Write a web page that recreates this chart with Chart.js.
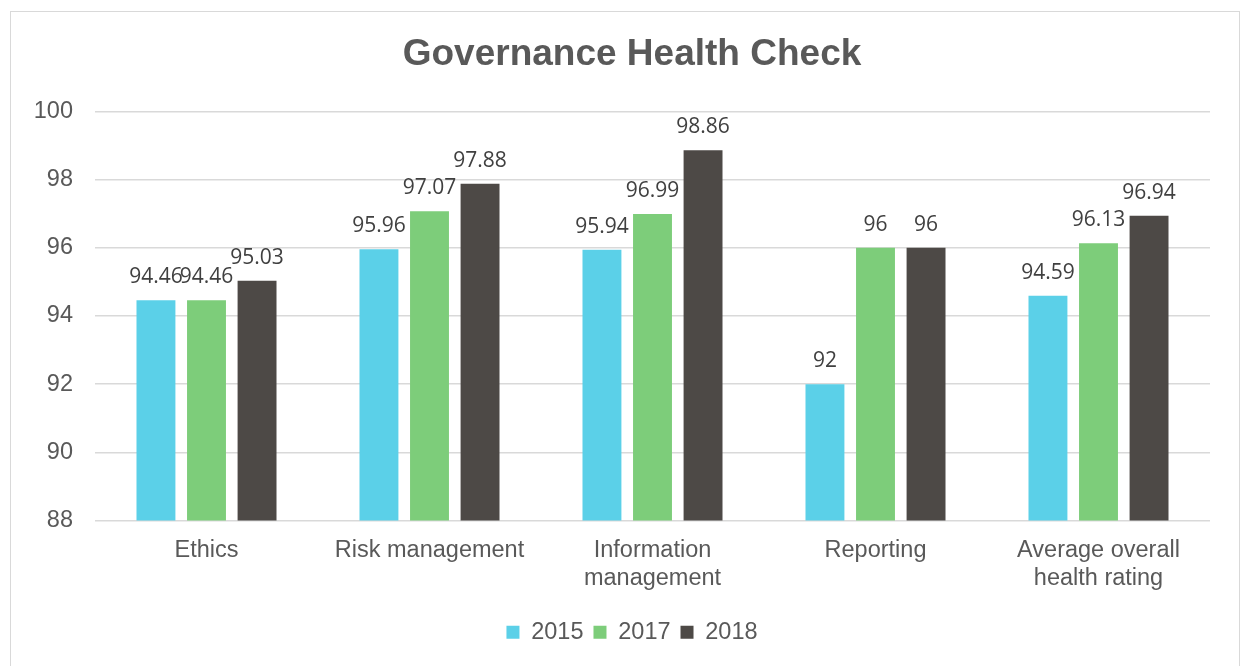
<!DOCTYPE html>
<html>
<head>
<meta charset="utf-8">
<script src="https://cdn.jsdelivr.net/npm/chart.js@4"></script>
<style>
  html, body { margin: 0; padding: 0; background: #fff; }
  #frame { position: absolute; left: 10px; top: 11px; width: 1230px; height: 680px; border: 1px solid #d9d9d9; box-sizing: border-box; }
  #wrap { position: absolute; left: 0; top: 0; width: 1245px; height: 666px; }
</style>
</head>
<body>
<div id="frame"></div>
<div id="wrap"><canvas id="health-chart" width="1245" height="666"></canvas></div>
<script>
var categories = ["Ethics", "Risk management", ["Information", "management"], "Reporting", ["Average overall", "health rating"]];
var values2015 = [94.46, 95.96, 95.94, 92, 94.59];
var values2017 = [94.46, 97.07, 96.99, 96, 96.13];
var values2018 = [95.03, 97.88, 98.86, 96, 96.94];
var yTicks = [88, 90, 92, 94, 96, 98, 100];

// values written over each bar
var barLabels = {
  id: 'barLabels',
  afterDatasetsDraw: function(chart) {
    var ctx = chart.ctx;
    ctx.save();
    ctx.font = '21px "Open Sans"';
    ctx.fillStyle = '#404040';
    ctx.textAlign = 'center';
    ctx.textBaseline = 'alphabetic';
    chart.data.datasets.forEach(function(ds, i) {
      chart.getDatasetMeta(i).data.forEach(function(bar, j) {
        ctx.fillText(String(ds.data[j]), bar.x, bar.y - 17);
      });
    });
    ctx.restore();
  }
};

var ctx = document.getElementById("health-chart").getContext('2d');
var myChart = new Chart(ctx, {
  type: 'bar',
  data: {
    labels: categories,
    datasets: [
      { label: '2015', data: values2015, backgroundColor: '#5bd0e8' },
      { label: '2017', data: values2017, backgroundColor: '#7dcd7a' },
      { label: '2018', data: values2018, backgroundColor: '#4d4946' }
    ]
  },
  options: {
    responsive: false,
    animation: false,
    categoryPercentage: 0.68,
    barPercentage: 0.77,
    layout: { padding: { left: 20, right: 1, top: 33, bottom: 12 } },
    plugins: {
      title: {
        display: true,
        text: 'Governance Health Check',
        color: '#595959',
        font: { family: '"Liberation Sans", Arial', size: 37, weight: 'bold' },
        padding: { top: 0, bottom: 34 }
      },
      legend: {
        position: 'bottom',
        labels: {
          color: '#595959',
          font: { family: '"Liberation Sans", Arial', size: 23.5 },
          boxWidth: 13,
          boxHeight: 13,
          padding: 10
        }
      },
      tooltip: { enabled: false }
    },
    scales: {
      x: {
        grid: { display: false },
        border: { display: false },
        ticks: {
          color: '#595959',
          font: { family: '"Liberation Sans", Arial', size: 23.5, lineHeight: 1.15 },
          padding: 9,
          maxRotation: 0,
          autoSkip: false
        },
        afterFit: function(scale) { scale.height = 90; }
      },
      y: {
        min: 88,
        max: 100,
        afterBuildTicks: function(scale) {
          scale.ticks = yTicks.map(function(v) { return { value: v }; });
        },
        grid: { color: '#d9d9d9', lineWidth: 1.5, drawTicks: false },
        border: { display: false },
        ticks: {
          color: '#595959',
          font: { family: '"Liberation Sans", Arial', size: 23.5 },
          padding: 22
        },
        afterFit: function(scale) { scale.width = 75; }
      },
      // empty right-hand spacer so the title and legend sit a bit right of centre
      spacer: {
        position: 'right',
        grid: { display: false },
        border: { display: false },
        ticks: { display: false },
        afterFit: function(scale) { scale.width = 34; }
      }
    }
  },
  plugins: [barLabels]
});
</script>
</body>
</html>
